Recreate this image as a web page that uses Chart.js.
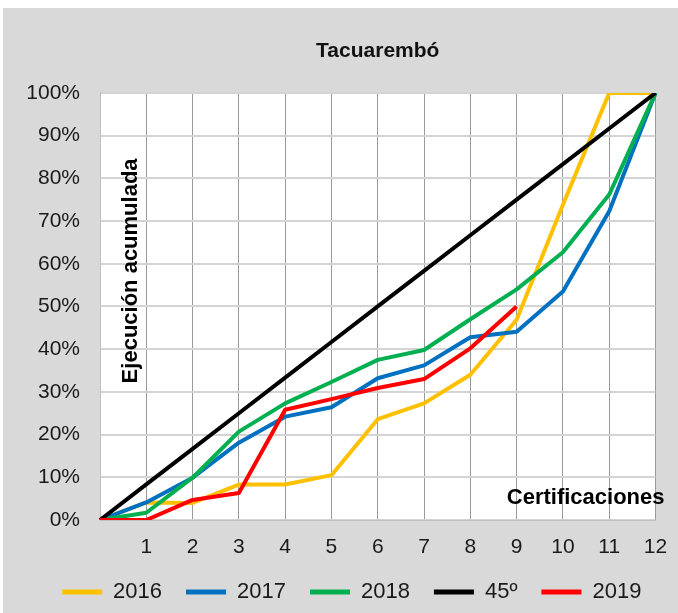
<!DOCTYPE html>
<html>
<head>
<meta charset="utf-8">
<script src="https://cdn.jsdelivr.net/npm/chart.js@4"></script>
<style>
  html, body { margin: 0; padding: 0; background: #fff; }
  #tacuarembo_chart { display: block; }
</style>
</head>
<body>
<canvas id="tacuarembo_chart" width="678" height="613"></canvas>
<script>
const categories = ["0", "1", "2", "3", "4", "5", "6", "7", "8", "9", "10", "11", "12"];
const yTicks = [0, 10, 20, 30, 40, 50, 60, 70, 80, 90, 100];

const serie2016 = [0, 4.1, 4.0, 8.3, 8.3, 10.5, 23.6, 27.3, 34.0, 46.9, 73.8, 100, 100];
const serie2017 = [0, 4.1, 9.9, 18.1, 24.2, 26.4, 33.2, 36.2, 42.8, 44.1, 53.5, 72.3, 100];
const serie2018 = [0, 1.7, 9.9, 20.7, 27.3, 32.3, 37.5, 39.8, 47.0, 54.0, 62.7, 76.2, 100];
const serie45 = [0, 8.33, 16.67, 25, 33.33, 41.67, 50, 58.33, 66.67, 75, 83.33, 91.67, 100];
const serie2019 = [0, 0, 4.7, 6.3, 25.8, 28.3, 30.9, 33.0, 40.2, 50.0];

const seriesNames = ["2016", "2017", "2018", "45º", "2019"];
const seriesColors = ["#ffc000", "#0070c0", "#00b050", "#000000", "#ff0000"];
const seriesData = [serie2016, serie2017, serie2018, serie45, serie2019];

const FONT = "'Liberation Sans', Arial, sans-serif";

// fondo gris + area blanca + textos dentro del grafico
const decoPlugin = {
  id: "deco",
  afterLayout(chart) {
    // la leyenda del original esta algo corrida a la derecha
    chart.legend.left += 24;
    chart.legend.right += 24;
  },
  beforeDraw(chart) {
    const c = chart.ctx;
    const a = chart.chartArea;
    c.save();
    c.fillStyle = "#fff";
    c.fillRect(0, 0, chart.width, chart.height);
    c.fillStyle = "#d9d9d9";
    c.fillRect(3, 8, chart.width - 3, chart.height - 8);
    c.fillStyle = "#fff";
    c.fillRect(a.left, a.top, a.right - a.left, a.bottom - a.top);
    c.restore();
  },
  beforeDatasetsDraw(chart) {
    const c = chart.ctx;
    const a = chart.chartArea;
    c.save();
    c.fillStyle = "#000";
    c.font = "bold 22px " + FONT;
    c.textBaseline = "middle";
    c.textAlign = "right";
    c.fillText("Certificaciones", a.right + 9, a.bottom - 22);
    c.translate(a.left + 31, a.top + 178);
    c.rotate(-Math.PI / 2);
    c.textAlign = "center";
    c.fillText("Ejecución acumulada", 0, 0);
    c.restore();
  },
};

let context = document.querySelector("#tacuarembo_chart").getContext("2d");
new Chart(context, {
  type: "line",
  data: {
    labels: categories,
    datasets: seriesNames.map((name, i) => ({
      label: name,
      data: seriesData[i],
      borderColor: seriesColors[i],
      backgroundColor: seriesColors[i],
      borderWidth: 4,
      pointRadius: 0,
      tension: 0,
      borderJoinStyle: "round",
      order: seriesNames.length - 1 - i,
    })),
  },
  options: {
    responsive: false,
    animation: false,
    layout: {
      padding: { left: 0, right: 22.5, top: 0, bottom: 0 },
    },
    scales: {
      x: {
        offset: false,
        grid: { color: "#9a9a9a", lineWidth: 1, drawTicks: false },
        border: { color: "#bfbfbf", width: 1 },
        ticks: {
          padding: 15,
          color: "#1a1a1a",
          font: { family: FONT, size: 21 },
          maxRotation: 0,
          autoSkip: false,
          callback: function (value) {
            const lbl = categories[value];
            return lbl === "0" ? "" : lbl;
          },
        },
        afterFit: (scale) => {
          scale.height = 37;
          scale.paddingLeft = 0;
          scale.paddingRight = 0;
        },
      },
      y: {
        min: 0,
        max: 100,
        afterBuildTicks: (scale) => {
          scale.ticks = yTicks.map((v) => ({ value: v }));
        },
        grid: { color: "#d4d4d4", lineWidth: 2, drawTicks: false },
        border: { color: "#bfbfbf", width: 1 },
        ticks: {
          padding: 20,
          color: "#1a1a1a",
          font: { family: FONT, size: 21 },
          callback: function (value) {
            return value + "%";
          },
        },
        afterFit: (scale) => { scale.width = 100; },
      },
    },
    plugins: {
      title: {
        display: true,
        text: "Tacuarembó",
        fullSize: false,
        color: "#111",
        font: { family: FONT, size: 21, weight: "bold" },
        padding: { top: 38.5, bottom: 29.2 },
      },
      legend: {
        position: "bottom",
        labels: {
          color: "#1a1a1a",
          font: { family: FONT, size: 22 },
          boxWidth: 40,
          boxHeight: 5,
          padding: 24,
          sort: (a, b) => a.datasetIndex - b.datasetIndex,
          generateLabels: (chart) => {
            const items = Chart.defaults.plugins.legend.labels.generateLabels(chart);
            items.forEach((it) => { it.lineWidth = 0; });
            return items;
          },
        },
      },
      tooltip: { enabled: false },
    },
  },
  plugins: [decoPlugin],
});
</script>
</body>
</html>
